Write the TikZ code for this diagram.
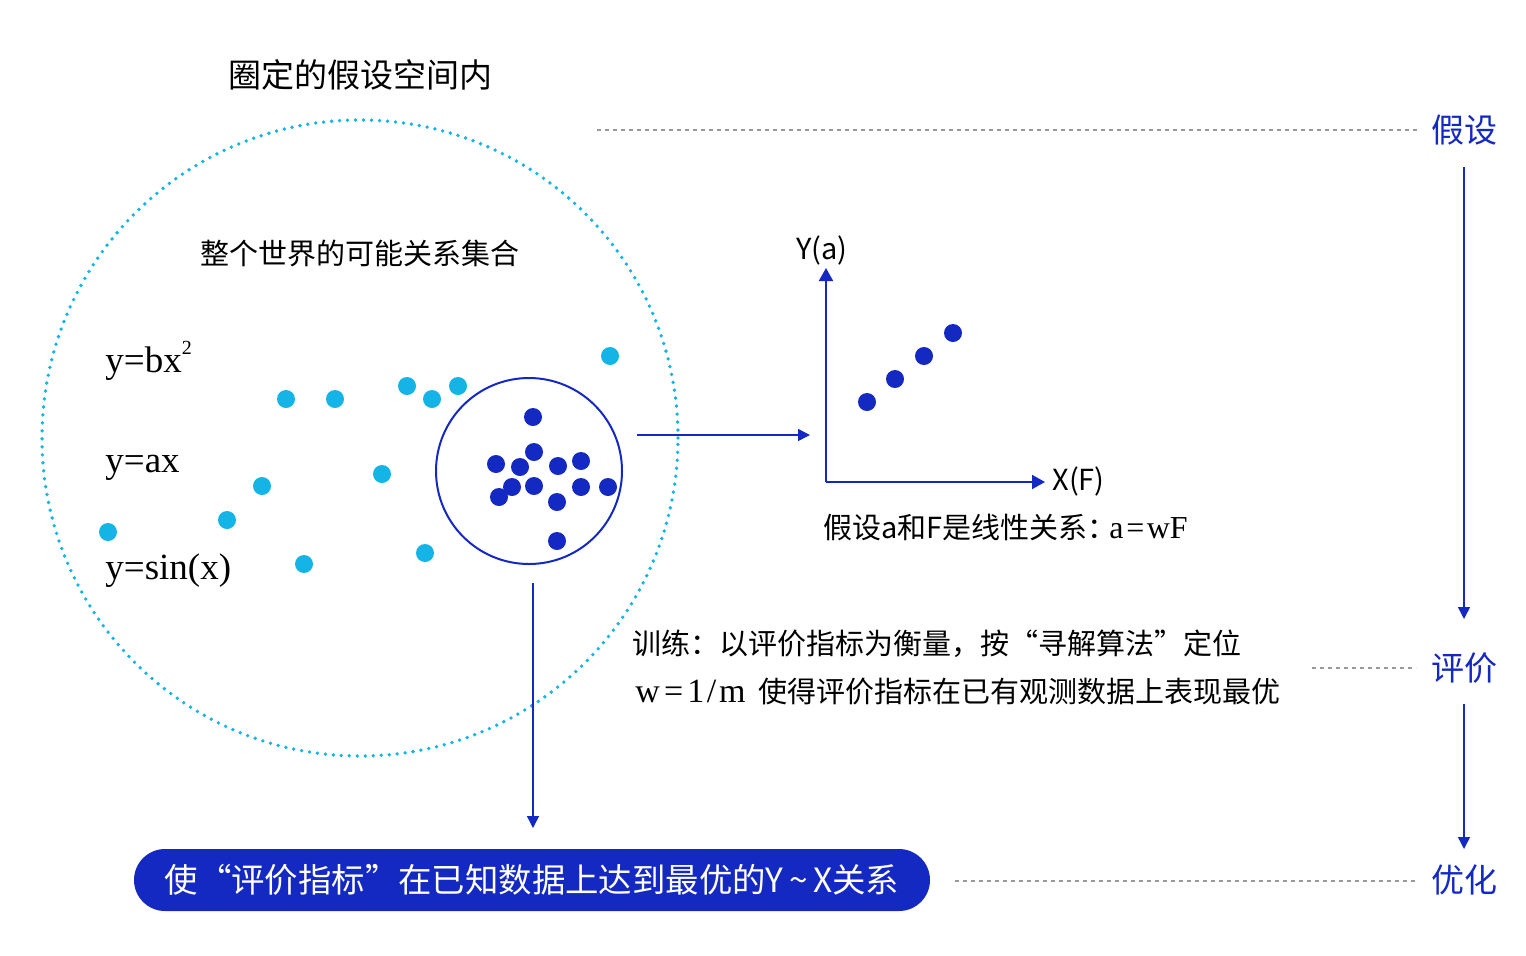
\documentclass[tikz,border=0pt]{standalone}
\usepackage{fontspec}
\setmainfont{Liberation Serif}
\newfontfamily\cjk{Noto Sans CJK SC}
\usetikzlibrary{arrows.meta}
\definecolor{dblue}{HTML}{1428C2}
\definecolor{cyanc}{HTML}{14B4E6}
\definecolor{grayd}{HTML}{9A9A9A}
\begin{document}
\begin{tikzpicture}[x=0.5pt,y=-0.5pt,
  cdot/.style={circle,fill=cyanc,inner sep=0pt,minimum size=9pt},
  bdot/.style={circle,fill=dblue,inner sep=0pt,minimum size=9pt},
  cjktxt/.style={font=\cjk\fontsize{14.5}{17}\selectfont,inner sep=0pt,text=black},
  formula/.style={font=\fontsize{18.5}{22}\selectfont,inner sep=0pt,anchor=west},
  steplab/.style={font=\cjk\fontsize{16.5}{20}\selectfont,text=dblue,inner sep=0pt},
  arr/.style={-{Triangle[width=7pt,length=6.5pt]},draw=dblue,line width=1pt},
  thinarr/.style={-{Triangle[width=6pt,length=6pt]},draw=dblue,line width=0.7pt},
  gdash/.style={draw=grayd,line width=1pt,dash pattern=on 2pt off 2pt}
]
\useasboundingbox (0,0) rectangle (1526,955);

% titles
\node[cjktxt,font=\cjk\fontsize{16.5}{20}\selectfont] (title) at (360,75) {圈定的假设空间内};
\node[circle,draw=cyanc,minimum size=318pt,inner sep=0pt,line width=1.9pt,
      dash pattern=on 0pt off 4pt,line cap=round] (world) at (360,438) {};
\node[cjktxt] (sub) at (360,253) {整个世界的可能关系集合};

% formulas
\node[formula] (f1) at (105,361) {y=bx\raisebox{0.5em}{\fontsize{10}{12}\selectfont 2}};
\node[formula] (f2) at (105,468) {y=ax};
\node[formula] (f3) at (105,571) {y=sin(x)};

% cyan dots
\foreach \n/\x/\y in {c1/286/399,c2/335/399,c3/407/386,c4/432/399,c5/458/386,c6/610/356,
  c7/382/474,c8/262/486,c9/227/520,c10/108/532,c11/304/564,c12/425/553}
  \node[cdot] (\n) at (\x,\y) {};

% inner circle
\node[circle,draw=dblue,line width=1pt,minimum size=93pt,inner sep=0pt] (inner) at (529,471) {};
\foreach \n/\x/\y in {b1/533/417,b2/534/452,b3/496/464,b4/520/467,b5/558/466,b6/581/461,
  b7/512/487,b8/534/486,b9/499/497,b10/581/487,b11/608/487,b12/557/502,b13/557/541}
  \node[bdot] (\n) at (\x,\y) {};

% arrow to chart
\coordinate (p1) at (637,435);
\coordinate (p2) at (810,435);
\draw[thinarr] (p1) -- (p2);

% axes
\coordinate (O) at (826,482);
\coordinate (Ytop) at (826,268);
\coordinate (Xend) at (1045,482);
\draw[arr] (O) -- (Ytop);
\draw[arr] (O) -- (Xend);
\node[cjktxt] (ylab) at (822,250) {Y(a)};
\node[cjktxt,anchor=west] (xlab) at (1052,481) {X(F)};
\foreach \n/\x/\y in {e1/867/402,e2/895/379,e3/924/356,e4/953/333}
  \node[bdot] (\n) at (\x,\y) {};
\node[cjktxt,anchor=west] (hyp) at (823,527) {假设a和F是线性关系：\kern-0.25em{\fontspec{Liberation Serif}\fontsize{16}{18}\selectfont a{\kern0.08em}={\kern0.08em}wF}};

% down arrow from inner circle
\coordinate (q1) at (533,583);
\coordinate (q2) at (533,828);
\draw[thinarr] (q1) -- (q2);

% training text
\node[cjktxt,anchor=west] (tr1) at (632,644) {训练：以评价指标为衡量，按“寻解算法”定位};
\node[cjktxt,anchor=west] (tr2) at (635,692) {{\fontspec{Liberation Serif}\fontsize{17}{19}\selectfont w{\kern0.12em}={\kern0.12em}1{\kern0.08em}/{\kern0.08em}m}\ \ 使得评价指标在已有观测数据上表现最优};

% result box
\node[fill=dblue,rounded corners=15.5pt,minimum width=398pt,minimum height=31pt,inner sep=0pt,
      text=white,font=\cjk\fontsize{16.7}{20}\selectfont] (res) at (532,880)
      {使“评价指标”在已知数据上达到最优的Y\,\textasciitilde\,X关系};

% right labels
\node[steplab] (js) at (1464,130) {假设};
\node[steplab] (pj) at (1464,668) {评价};
\node[steplab] (yh) at (1464,880) {优化};

\coordinate (d1s) at (597,130); \coordinate (d1e) at (1418,130);
\coordinate (d2s) at (1312,668); \coordinate (d2e) at (1416,668);
\coordinate (d3s) at (955,881); \coordinate (d3e) at (1418,881);
\draw[gdash] (d1s) -- (d1e);
\draw[gdash] (d2s) -- (d2e);
\draw[gdash] (d3s) -- (d3e);

\coordinate (a1s) at (1464,167); \coordinate (a1e) at (1464,619);
\coordinate (a2s) at (1464,704); \coordinate (a2e) at (1464,849);
\draw[thinarr] (a1s) -- (a1e);
\draw[thinarr] (a2s) -- (a2e);
\end{tikzpicture}
\end{document}
